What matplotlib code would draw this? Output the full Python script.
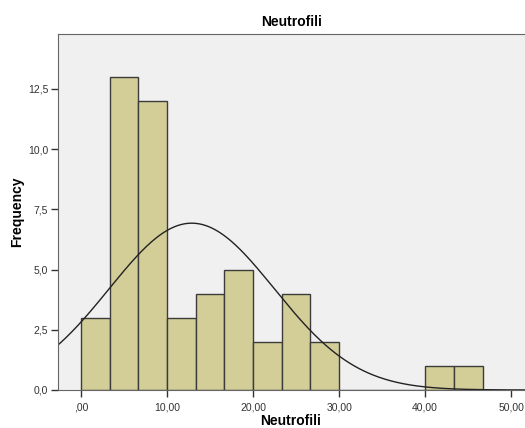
import numpy as np
import matplotlib
matplotlib.use('Agg')
from matplotlib import pyplot as plt

plt.rcParams['font.family'] = ['Liberation Sans', 'DejaVu Sans']

# istogramma neutrofili (SPSS)
bin_edges = [0, 10/3, 20/3, 10, 40/3, 50/3, 20, 70/3, 80/3, 30, 100/3, 110/3, 40, 130/3, 140/3]
counts = [3, 13, 12, 3, 4, 5, 2, 4, 2, 0, 0, 0, 1, 1]
mean = 12.87
std = 9.6
n = 50
xticks = [0, 10, 20, 30, 40, 50]
xlabels = [',00', '10,00', '20,00', '30,00', '40,00', '50,00']
yticks = [0, 2.5, 5, 7.5, 10, 12.5]
ylabels = ['0,0', '2,5', '5,0', '7,5', '10,0', '12,5']

fig = plt.figure(figsize=(5.25, 4.28), dpi=100)
ax = fig.add_axes([0.1105, 0.0888, 0.8895, 0.8318])
ax.set_facecolor('#F0F0F0')

lefts = np.array(bin_edges[:-1])
widths = np.diff(bin_edges)
ax.bar(lefts, counts, width=widths, align='edge', color='#D3CE97',
       edgecolor='#3C3C3C', linewidth=1.0)

# curva normale
xs = np.linspace(-3, 52, 400)
bw = 10/3
ys = n * bw / (std * np.sqrt(2*np.pi)) * np.exp(-0.5*((xs-mean)/std)**2)
ax.plot(xs, ys, color='#222222', linewidth=1.0)

ax.set_xlim(-2.67, 51.6)
ax.set_ylim(0, 14.78)
ax.set_xticks(xticks)
ax.set_xticklabels(xlabels)
ax.set_yticks(yticks)
ax.set_yticklabels(ylabels)
ax.tick_params(direction='out', length=5, width=1, labelsize=7.5, colors='#333333', pad=2)
ax.tick_params(axis='x', pad=4)
for s in ['left', 'bottom', 'top']:
    ax.spines[s].set_color('#666666')
ax.spines['right'].set_visible(False)

ax.set_title('Neutrofili', fontsize=10, fontweight='bold', pad=6)
ax.set_xlabel('Neutrofili', fontsize=10, fontweight='bold')
ax.set_ylabel('Frequency', fontsize=10, fontweight='bold')
ax.xaxis.set_label_coords((291-58)/467, -24/356)
ax.yaxis.set_label_coords(-34/467, 0.5)

fig.savefig('out.png', dpi=100)
